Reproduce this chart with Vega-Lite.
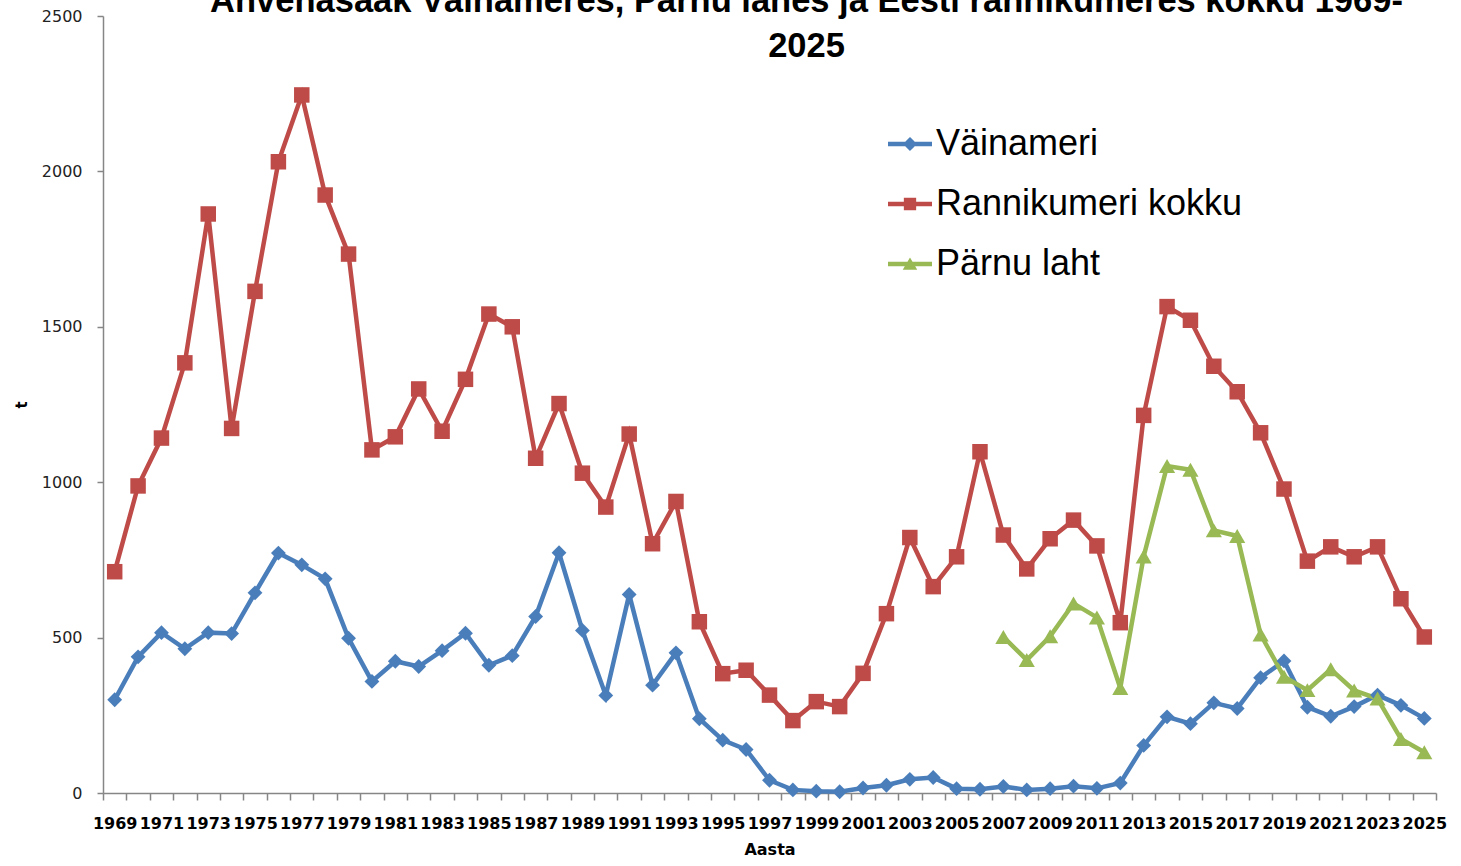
{
  "$schema": "https://vega.github.io/schema/vega-lite/v6.json",
  "width": 1333,
  "height": 777,
  "autosize": {"type": "none"},
  "padding": {"left": 103, "top": 16, "right": 25, "bottom": 73},
  "background": "white",
  "title": {
    "text": ["Ahvenasaak  Väinameres, Pärnu lahes ja Eesti rannikumeres kokku 1969-", "2025"],
    "font": "Liberation Sans",
    "fontSize": 34.5,
    "fontWeight": "bold",
    "color": "#000000",
    "anchor": "middle",
    "frame": "group",
    "lineHeight": 45,
    "offset": -56,
    "dx": 37
  },
  "config": {"view": {"stroke": null}},
  "data": {
    "values": [
      {"year": 1969, "series": "Väinameri", "value": 300},
      {"year": 1970, "series": "Väinameri", "value": 438},
      {"year": 1971, "series": "Väinameri", "value": 516},
      {"year": 1972, "series": "Väinameri", "value": 464},
      {"year": 1973, "series": "Väinameri", "value": 516},
      {"year": 1974, "series": "Väinameri", "value": 513},
      {"year": 1975, "series": "Väinameri", "value": 644},
      {"year": 1976, "series": "Väinameri", "value": 772},
      {"year": 1977, "series": "Väinameri", "value": 734},
      {"year": 1978, "series": "Väinameri", "value": 689},
      {"year": 1979, "series": "Väinameri", "value": 498},
      {"year": 1980, "series": "Väinameri", "value": 359},
      {"year": 1981, "series": "Väinameri", "value": 424},
      {"year": 1982, "series": "Väinameri", "value": 407},
      {"year": 1983, "series": "Väinameri", "value": 458},
      {"year": 1984, "series": "Väinameri", "value": 514},
      {"year": 1985, "series": "Väinameri", "value": 411},
      {"year": 1986, "series": "Väinameri", "value": 442},
      {"year": 1987, "series": "Väinameri", "value": 568},
      {"year": 1988, "series": "Väinameri", "value": 773},
      {"year": 1989, "series": "Väinameri", "value": 523},
      {"year": 1990, "series": "Väinameri", "value": 314},
      {"year": 1991, "series": "Väinameri", "value": 639},
      {"year": 1992, "series": "Väinameri", "value": 347},
      {"year": 1993, "series": "Väinameri", "value": 451},
      {"year": 1994, "series": "Väinameri", "value": 239},
      {"year": 1995, "series": "Väinameri", "value": 170},
      {"year": 1996, "series": "Väinameri", "value": 140},
      {"year": 1997, "series": "Väinameri", "value": 41},
      {"year": 1998, "series": "Väinameri", "value": 10},
      {"year": 1999, "series": "Väinameri", "value": 6},
      {"year": 2000, "series": "Väinameri", "value": 4},
      {"year": 2001, "series": "Väinameri", "value": 16},
      {"year": 2002, "series": "Väinameri", "value": 25},
      {"year": 2003, "series": "Väinameri", "value": 44},
      {"year": 2004, "series": "Väinameri", "value": 50},
      {"year": 2005, "series": "Väinameri", "value": 14},
      {"year": 2006, "series": "Väinameri", "value": 12},
      {"year": 2007, "series": "Väinameri", "value": 21},
      {"year": 2008, "series": "Väinameri", "value": 10},
      {"year": 2009, "series": "Väinameri", "value": 14},
      {"year": 2010, "series": "Väinameri", "value": 22},
      {"year": 2011, "series": "Väinameri", "value": 15},
      {"year": 2012, "series": "Väinameri", "value": 32},
      {"year": 2013, "series": "Väinameri", "value": 153},
      {"year": 2014, "series": "Väinameri", "value": 245},
      {"year": 2015, "series": "Väinameri", "value": 223},
      {"year": 2016, "series": "Väinameri", "value": 290},
      {"year": 2017, "series": "Väinameri", "value": 272},
      {"year": 2018, "series": "Väinameri", "value": 371},
      {"year": 2019, "series": "Väinameri", "value": 425},
      {"year": 2020, "series": "Väinameri", "value": 276},
      {"year": 2021, "series": "Väinameri", "value": 247},
      {"year": 2022, "series": "Väinameri", "value": 278},
      {"year": 2023, "series": "Väinameri", "value": 315},
      {"year": 2024, "series": "Väinameri", "value": 282},
      {"year": 2025, "series": "Väinameri", "value": 240},
      {"year": 1969, "series": "Rannikumeri kokku", "value": 712},
      {"year": 1970, "series": "Rannikumeri kokku", "value": 988},
      {"year": 1971, "series": "Rannikumeri kokku", "value": 1142},
      {"year": 1972, "series": "Rannikumeri kokku", "value": 1384},
      {"year": 1973, "series": "Rannikumeri kokku", "value": 1863},
      {"year": 1974, "series": "Rannikumeri kokku", "value": 1173},
      {"year": 1975, "series": "Rannikumeri kokku", "value": 1614},
      {"year": 1976, "series": "Rannikumeri kokku", "value": 2031},
      {"year": 1977, "series": "Rannikumeri kokku", "value": 2246},
      {"year": 1978, "series": "Rannikumeri kokku", "value": 1924},
      {"year": 1979, "series": "Rannikumeri kokku", "value": 1734},
      {"year": 1980, "series": "Rannikumeri kokku", "value": 1104},
      {"year": 1981, "series": "Rannikumeri kokku", "value": 1146},
      {"year": 1982, "series": "Rannikumeri kokku", "value": 1300},
      {"year": 1983, "series": "Rannikumeri kokku", "value": 1164},
      {"year": 1984, "series": "Rannikumeri kokku", "value": 1331},
      {"year": 1985, "series": "Rannikumeri kokku", "value": 1541},
      {"year": 1986, "series": "Rannikumeri kokku", "value": 1500},
      {"year": 1987, "series": "Rannikumeri kokku", "value": 1077},
      {"year": 1988, "series": "Rannikumeri kokku", "value": 1253},
      {"year": 1989, "series": "Rannikumeri kokku", "value": 1029},
      {"year": 1990, "series": "Rannikumeri kokku", "value": 920},
      {"year": 1991, "series": "Rannikumeri kokku", "value": 1155},
      {"year": 1992, "series": "Rannikumeri kokku", "value": 802},
      {"year": 1993, "series": "Rannikumeri kokku", "value": 938},
      {"year": 1994, "series": "Rannikumeri kokku", "value": 551},
      {"year": 1995, "series": "Rannikumeri kokku", "value": 384},
      {"year": 1996, "series": "Rannikumeri kokku", "value": 395},
      {"year": 1997, "series": "Rannikumeri kokku", "value": 315},
      {"year": 1998, "series": "Rannikumeri kokku", "value": 233},
      {"year": 1999, "series": "Rannikumeri kokku", "value": 294},
      {"year": 2000, "series": "Rannikumeri kokku", "value": 278},
      {"year": 2001, "series": "Rannikumeri kokku", "value": 385},
      {"year": 2002, "series": "Rannikumeri kokku", "value": 577},
      {"year": 2003, "series": "Rannikumeri kokku", "value": 822},
      {"year": 2004, "series": "Rannikumeri kokku", "value": 664},
      {"year": 2005, "series": "Rannikumeri kokku", "value": 760},
      {"year": 2006, "series": "Rannikumeri kokku", "value": 1098},
      {"year": 2007, "series": "Rannikumeri kokku", "value": 830},
      {"year": 2008, "series": "Rannikumeri kokku", "value": 721},
      {"year": 2009, "series": "Rannikumeri kokku", "value": 818},
      {"year": 2010, "series": "Rannikumeri kokku", "value": 878},
      {"year": 2011, "series": "Rannikumeri kokku", "value": 795},
      {"year": 2012, "series": "Rannikumeri kokku", "value": 548},
      {"year": 2013, "series": "Rannikumeri kokku", "value": 1215},
      {"year": 2014, "series": "Rannikumeri kokku", "value": 1565},
      {"year": 2015, "series": "Rannikumeri kokku", "value": 1521},
      {"year": 2016, "series": "Rannikumeri kokku", "value": 1373},
      {"year": 2017, "series": "Rannikumeri kokku", "value": 1291},
      {"year": 2018, "series": "Rannikumeri kokku", "value": 1159},
      {"year": 2019, "series": "Rannikumeri kokku", "value": 978},
      {"year": 2020, "series": "Rannikumeri kokku", "value": 746},
      {"year": 2021, "series": "Rannikumeri kokku", "value": 792},
      {"year": 2022, "series": "Rannikumeri kokku", "value": 760},
      {"year": 2023, "series": "Rannikumeri kokku", "value": 792},
      {"year": 2024, "series": "Rannikumeri kokku", "value": 625},
      {"year": 2025, "series": "Rannikumeri kokku", "value": 502},
      {"year": 2007, "series": "Pärnu laht", "value": 502},
      {"year": 2008, "series": "Pärnu laht", "value": 428},
      {"year": 2009, "series": "Pärnu laht", "value": 504},
      {"year": 2010, "series": "Pärnu laht", "value": 610},
      {"year": 2011, "series": "Pärnu laht", "value": 565},
      {"year": 2012, "series": "Pärnu laht", "value": 338},
      {"year": 2013, "series": "Pärnu laht", "value": 761},
      {"year": 2014, "series": "Pärnu laht", "value": 1052},
      {"year": 2015, "series": "Pärnu laht", "value": 1040},
      {"year": 2016, "series": "Pärnu laht", "value": 845},
      {"year": 2017, "series": "Pärnu laht", "value": 827},
      {"year": 2018, "series": "Pärnu laht", "value": 510},
      {"year": 2019, "series": "Pärnu laht", "value": 374},
      {"year": 2020, "series": "Pärnu laht", "value": 331},
      {"year": 2021, "series": "Pärnu laht", "value": 398},
      {"year": 2022, "series": "Pärnu laht", "value": 330},
      {"year": 2023, "series": "Pärnu laht", "value": 304},
      {"year": 2024, "series": "Pärnu laht", "value": 174},
      {"year": 2025, "series": "Pärnu laht", "value": 131}
    ]
  },
  "encoding": {
    "x": {
      "field": "year",
      "type": "ordinal",
      "scale": {"type": "band", "paddingInner": 0, "paddingOuter": 0},
      "axis": {
        "title": "Aasta",
        "titleFont": "DejaVu Sans",
        "titleFontSize": 16,
        "titleFontWeight": "bold",
        "titleColor": "#000000",
        "titlePadding": 10,
        "labelFont": "DejaVu Sans",
        "labelFontSize": 16,
        "labelFontWeight": "bold",
        "labelColor": "#000000",
        "labelAngle": 0,
        "labelOverlap": false,
        "labelPadding": 15,
        "labelExpr": "datum.value % 2 == 1 ? datum.label : ''",
        "tickBand": "extent",
        "tickSize": 7,
        "tickWidth": 1.5,
        "tickColor": "#868686",
        "domainColor": "#868686",
        "domainWidth": 1.5,
        "grid": false
      }
    },
    "y": {
      "field": "value",
      "type": "quantitative",
      "scale": {"domain": [0, 2500], "nice": false},
      "axis": {
        "title": "t",
        "titleFont": "DejaVu Sans",
        "titleFontSize": 15,
        "titleFontWeight": "bold",
        "titleColor": "#000000",
        "titlePadding": 12,
        "values": [0, 500, 1000, 1500, 2000, 2500],
        "format": "d",
        "labelFont": "DejaVu Sans",
        "labelFontSize": 16,
        "labelColor": "#222222",
        "labelPadding": 15,
        "tickSize": 6,
        "tickWidth": 1.5,
        "tickColor": "#868686",
        "domainColor": "#868686",
        "domainWidth": 1.5,
        "grid": false
      }
    },
    "color": {
      "field": "series",
      "type": "nominal",
      "sort": ["Väinameri", "Rannikumeri kokku", "Pärnu laht"],
      "scale": {
        "domain": ["Väinameri", "Rannikumeri kokku", "Pärnu laht"],
        "range": ["#4A7EBB", "#BE4B48", "#98B954"]
      },
      "legend": {
        "orient": "none",
        "legendX": 785,
        "legendY": 106,
        "padding": 0,
        "title": null,
        "labelFont": "Liberation Sans",
        "labelFontSize": 36,
        "labelColor": "#000000",
        "labelLimit": 0,
        "labelOffset": 4,
        "symbolSize": 1936,
        "symbolType": "M-1,-0.1H1V0.1H-1Z",
        "rowPadding": 20,
        "symbolStrokeWidth": 0,
        "encode": {
          "symbols": {
            "update": {
              "shape": {"signal": "datum.value == 'Väinameri' ? 'M-1,-0.1H1V0.1H-1Z M0,-0.32L0.32,0L0,0.32L-0.32,0Z' : datum.value == 'Rannikumeri kokku' ? 'M-1,-0.1H1V0.1H-1Z M-0.28,-0.28H0.28V0.28H-0.28Z' : 'M-1,-0.1H1V0.1H-1Z M0,-0.3L0.33,0.26H-0.33Z'"},
              "size": {"value": 1936},
              "fill": {"scale": "color", "field": "value"},
              "stroke": {"value": "transparent"},
              "opacity": {"value": 1}
            }
          }
        }
      }
    }
  },
  "layer": [
    {
      "mark": {"type": "line", "strokeWidth": 4.5}
    },
    {
      "transform": [{"filter": "datum.series == 'Väinameri'"}],
      "mark": {"type": "point", "filled": true, "opacity": 1, "shape": "diamond", "size": 220}
    },
    {
      "transform": [{"filter": "datum.series == 'Rannikumeri kokku'"}],
      "mark": {"type": "point", "filled": true, "opacity": 1, "shape": "square", "size": 240}
    },
    {
      "transform": [{"filter": "datum.series == 'Pärnu laht'"}],
      "mark": {"type": "point", "filled": true, "opacity": 1, "shape": "triangle-up", "size": 260}
    }
  ]
}
